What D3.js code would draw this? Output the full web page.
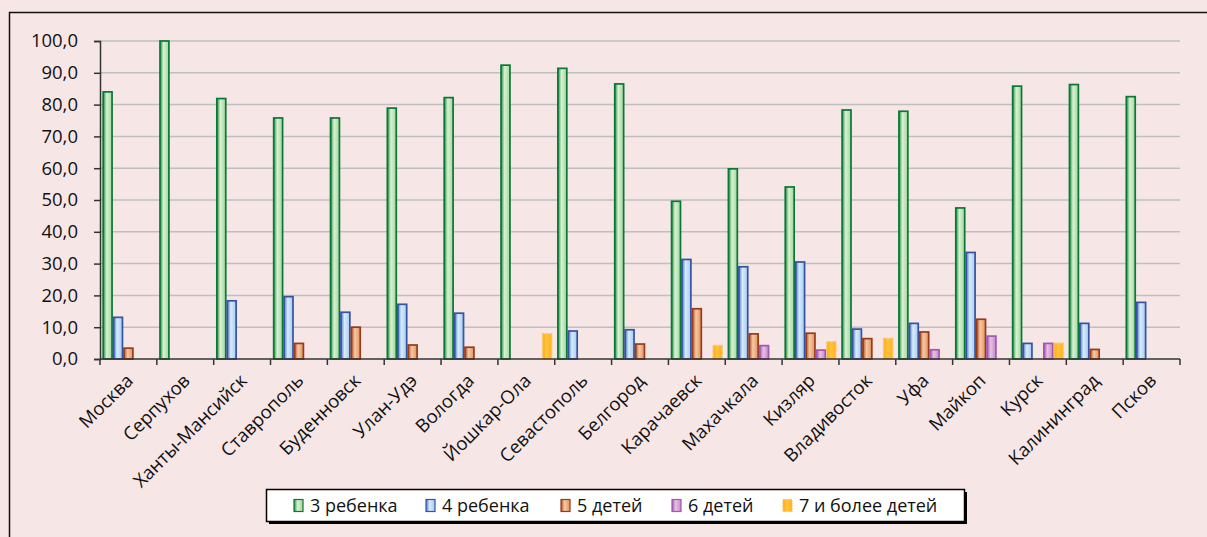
<!DOCTYPE html>
<html>
<head>
<meta charset="utf-8">
<script src="https://cdn.jsdelivr.net/npm/d3@7"></script>
<style>
  html, body { margin: 0; padding: 0; background: #f6e6e6; }
  svg { display: block; font-family: "Open Sans", "Noto Sans", sans-serif; }
</style>
</head>
<body>
<div id="chart"></div>
<script>
const categories = ["Москва", "Серпухов", "Ханты-Мансийск", "Ставрополь", "Буденновск",
  "Улан-Удэ", "Вологда", "Йошкар-Ола", "Севастополь", "Белгород", "Карачаевск",
  "Махачкала", "Кизляр", "Владивосток", "Уфа", "Майкоп", "Курск", "Калининград", "Псков"];

const seriesNames = ["3 ребенка", "4 ребенка", "5 детей", "6 детей", "7 и более детей"];

const children3 = [84.0, 100.0, 81.9, 75.8, 75.8, 78.9, 82.2, 92.4, 91.4, 86.5,
  49.6, 59.8, 54.1, 78.3, 77.9, 47.5, 85.8, 86.3, 82.5];
const children4 = [13.1, null, 18.3, 19.6, 14.7, 17.2, 14.4, null, 8.8, 9.2,
  31.3, 29.0, 30.5, 9.4, 11.2, 33.5, 4.9, 11.2, 17.8];
const children5 = [3.4, null, null, 4.9, 10.0, 4.4, 3.7, null, null, 4.7,
  15.8, 7.9, 8.1, 6.4, 8.5, 12.5, null, 3.0, null];
const children6 = [null, null, null, null, null, null, null, null, null, null,
  null, 4.2, 2.8, null, 2.9, 7.2, 4.9, null, null];
const children7 = [null, null, null, null, null, null, null, 7.9, null, null,
  4.2, null, 5.4, 6.4, null, null, 4.9, null, null];

const yTicks = [0, 10, 20, 30, 40, 50, 60, 70, 80, 90, 100];

const seriesValues = [children3, children4, children5, children6, children7];

// edge / light / mid colours for each series gradient
const styles = [
  { stroke: "#0a7638", dark: "#23903f", light: "#d9f1d3", mid: "#a0d69a", dash: null },
  { stroke: "#3552a3", dark: "#5071bf", light: "#d6ecfb", mid: "#a6cbee", dash: null },
  { stroke: "#983a1c", dark: "#b04f28", light: "#f6c9a2", mid: "#e0955f", dash: null },
  { stroke: "#a358ad", dark: "#a055a8", light: "#e5c2e6", mid: "#c58ac8", dash: null },
  { stroke: "#ffc04d", dark: "#ffa51a", light: "#ffc53a", mid: "#ffb020", dash: "1.5,1" },
];

const width = 1207, height = 537;
const margin = { top: 41, right: 27, bottom: 178, left: 100 };

const svg = d3.select("#chart").append("svg")
  .attr("width", width).attr("height", height);

svg.append("rect").attr("width", width).attr("height", height).attr("fill", "#f6e6e6");
svg.append("rect")
  .attr("x", 9.5).attr("y", 12.5)
  .attr("width", width).attr("height", height)
  .attr("fill", "none").attr("stroke", "#111").attr("stroke-width", 1.5);

const defs = svg.append("defs");
styles.forEach((s, i) => {
  const g = defs.append("linearGradient").attr("id", "grad" + i)
    .attr("x1", "0%").attr("x2", "100%").attr("y1", "0%").attr("y2", "0%");
  g.append("stop").attr("offset", "0%").attr("stop-color", s.dark);
  g.append("stop").attr("offset", "40%").attr("stop-color", s.light);
  g.append("stop").attr("offset", "100%").attr("stop-color", s.mid);
});

const x0 = d3.scaleBand()
  .domain(categories)
  .range([margin.left, width - margin.right])
  .padding(0);

const x1 = d3.scaleBand()
  .domain(d3.range(seriesNames.length))
  .range([2.4, x0.bandwidth() - 2.4])
  .padding(0);

const y = d3.scaleLinear()
  .domain([0, 100])
  .range([height - margin.bottom, margin.top]);

// gridlines
svg.append("g")
  .selectAll("line")
  .data(yTicks.filter(d => d > 0))
  .join("line")
  .attr("x1", margin.left).attr("x2", width - margin.right)
  .attr("y1", d => y(d)).attr("y2", d => y(d))
  .attr("stroke", "#bfbfbf").attr("stroke-width", 1.5);

// bars
const groups = svg.append("g")
  .selectAll("g")
  .data(categories)
  .join("g")
  .attr("transform", d => `translate(${x0(d)},0)`);

groups.selectAll("rect")
  .data((d, ci) => seriesValues.map((vals, si) => ({ si, v: vals[ci] })).filter(d => d.v != null))
  .join("rect")
  .attr("x", d => x1(d.si) + 0.75)
  .attr("width", x1.bandwidth() - 1.5)
  .attr("y", d => y(d.v))
  .attr("height", d => y(0) - y(d.v))
  .attr("fill", d => `url(#grad${d.si})`)
  .attr("stroke", d => styles[d.si].stroke)
  .attr("stroke-width", 1.7)
  .attr("stroke-dasharray", d => styles[d.si].dash);

// y axis
const yAxis = svg.append("g")
  .attr("transform", `translate(${margin.left},0)`)
  .call(d3.axisLeft(y).tickValues(yTicks).tickSize(6).tickPadding(16)
    .tickFormat(d => d3.format(".1f")(d).replace(".", ",")));
yAxis.select(".domain").attr("stroke", "#333").attr("stroke-width", 1.5);
yAxis.selectAll(".tick line").attr("stroke", "#333").attr("stroke-width", 1.5);
yAxis.selectAll("text").attr("font-size", 18.5).attr("fill", "#111")
  .attr("font-family", "'Open Sans', sans-serif");

// x axis
const xAxis = svg.append("g")
  .attr("transform", `translate(0,${y(0)})`);
xAxis.append("line")
  .attr("x1", margin.left).attr("x2", width - margin.right)
  .attr("stroke", "#333").attr("stroke-width", 1.5);
xAxis.selectAll(".tick-mark")
  .data(d3.range(categories.length + 1))
  .join("line")
  .attr("class", "tick-mark")
  .attr("x1", i => margin.left + i * x0.step()).attr("x2", i => margin.left + i * x0.step())
  .attr("y1", 0).attr("y2", 6)
  .attr("stroke", "#333").attr("stroke-width", 1.5);
xAxis.selectAll(".x-label")
  .data(categories)
  .join("text")
  .attr("class", "x-label")
  .attr("transform", d => `translate(${x0(d) + x0.bandwidth() / 2 - 2},${15}) rotate(-45)`)
  .attr("text-anchor", "end")
  .attr("dy", "0.6em")
  .attr("font-size", 18.5)
  .attr("fill", "#111")
  .text(d => d);

// legend
const legend = svg.append("g");
legend.append("rect")
  .attr("x", 269).attr("y", 492).attr("width", 698).attr("height", 32)
  .attr("fill", "#000");
legend.append("rect")
  .attr("x", 266.5).attr("y", 489.5).attr("width", 698).attr("height", 32)
  .attr("fill", "#fff").attr("stroke", "#000").attr("stroke-width", 1.5);

const legendX = [294, 426, 561, 672, 783];
const items = legend.selectAll(".item")
  .data(seriesNames)
  .join("g")
  .attr("class", "item")
  .attr("transform", (d, i) => `translate(${legendX[i]},505.5)`);
items.append("rect")
  .attr("x", 0).attr("y", -6).attr("width", 9).attr("height", 12)
  .attr("fill", (d, i) => `url(#grad${i})`)
  .attr("stroke", (d, i) => styles[i].stroke)
  .attr("stroke-width", 1.2)
  .attr("stroke-dasharray", (d, i) => styles[i].dash);
items.append("text")
  .attr("x", 16).attr("dy", "0.35em")
  .attr("font-size", 18).attr("fill", "#111")
  .text(d => d);
</script>
</body>
</html>
